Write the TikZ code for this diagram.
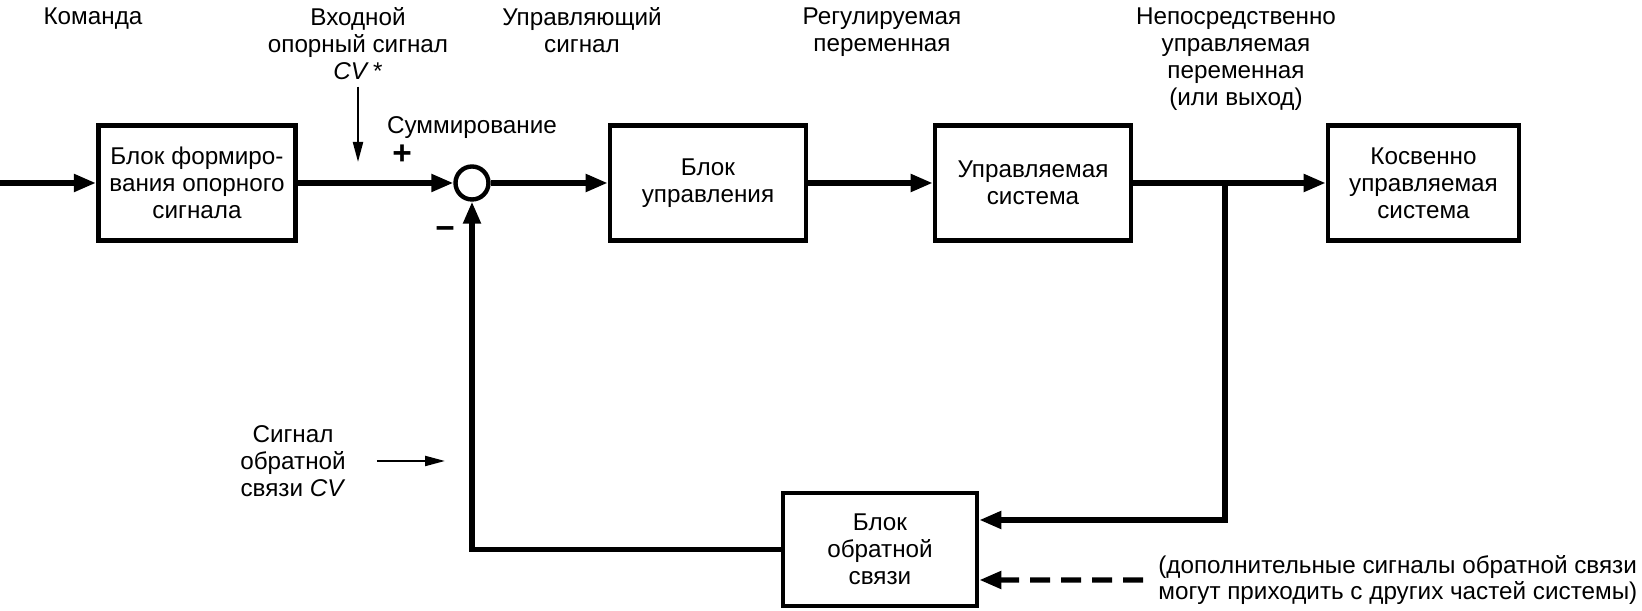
\documentclass[tikz,border=0pt]{standalone}
\usepackage{fontspec}
\setmainfont{Liberation Sans}
\usetikzlibrary{arrows.meta}

\begin{document}
\begin{tikzpicture}[
  font=\fontsize{13.8pt}{15.3pt}\selectfont,
  blok/.style={draw,line width=2.7pt,minimum height=2.3cm,align=center,inner sep=0pt},
  summa/.style={draw,circle,line width=2.5pt,minimum size=0.66cm,inner sep=0pt},
  sig/.style={line width=2.9pt,-{Triangle[length=0.44cm,width=0.34cm]}},
  thinsig/.style={line width=1.2pt,-{Triangle[length=0.4cm,width=0.2cm]}},
  lbl/.style={align=center,inner sep=0pt,anchor=north}
]
\useasboundingbox (0,0) rectangle (32.84,12.22);

% ======================= top captions =======================
\node[lbl] (cmd)    at (1.86,12.07)  {Команда};
\node[lbl] (vin)    at (7.16,12.07)  {Входной\\опорный сигнал\\\textit{CV}\,*};
\node[lbl] (uctl)   at (11.64,12.07) {Управляющий\\сигнал};
\node[lbl] (reg)    at (17.64,12.07) {Регулируемая\\переменная};
\node[lbl] (direct) at (24.72,12.07) {Непосредственно\\управляемая\\переменная\\(или выход)};

% ======================= forward path =======================
\node[blok,minimum width=3.95cm] (form)  at (3.94,8.56)  {Блок формиро-\\вания опорного\\сигнала};
\node[summa]                     (sum)   at (9.44,8.56)  {};
\node[blok,minimum width=3.92cm] (ctrl)  at (14.16,8.56) {Блок\\управления};
\node[blok,minimum width=3.92cm] (plant) at (20.66,8.56) {Управляемая\\система};
\node[blok,minimum width=3.82cm] (indir) at (28.47,8.56) {Косвенно\\управляемая\\система};

% summing point marks
\node (sumlbl) at (9.44,9.66) {Суммирование};
\node[font=\fontsize{19pt}{19pt}\selectfont\bfseries] (plus)  at (8.04,9.12) {+};
\node[font=\fontsize{19pt}{19pt}\selectfont\bfseries] (minus) at (8.90,7.56) {−};

\coordinate (cmdin) at (0,8.56);
\coordinate (br)    at (24.5,8.56);
\coordinate (cvtip) at (7.16,8.98);

\draw[sig] (cmdin) -- (form);
\draw[sig] (form) -- (sum);
\draw[sig] (sum) -- (ctrl);
\draw[sig] (ctrl) -- (plant);
\draw[sig] (plant) -- (indir);
\draw[thinsig] ([yshift=-0.13cm]vin.south) -- (cvtip);

% ======================= feedback path =======================
\node[blok,minimum width=3.88cm,minimum height=2.26cm] (fb) at (17.6,1.23) {Блок\\обратной\\связи};

\draw[sig] (br) |- ([yshift=0.59cm]fb.east);
\draw[sig] (fb.west) -| (sum.south);

% feedback signal caption
\node[align=center] (fbsig) at (5.86,3.0) {Сигнал\\обратной\\связи \textit{CV}};
\coordinate (fbsend) at (8.9,3.0);
\draw[thinsig] ([xshift=0.5cm]fbsig.east) -- (fbsend);

% other feedback signals (dashed)
\coordinate (extra) at (22.86,0.62);
\draw[sig,dash pattern=on 0.4cm off 0.22cm] (extra) -- ([yshift=-0.61cm]fb.east);
\node[anchor=west,align=left,inner sep=0pt] (extralbl) at ([xshift=0.3cm]extra)
  {(дополнительные сигналы обратной связи\\могут приходить с других частей системы)};

\end{tikzpicture}
\end{document}
